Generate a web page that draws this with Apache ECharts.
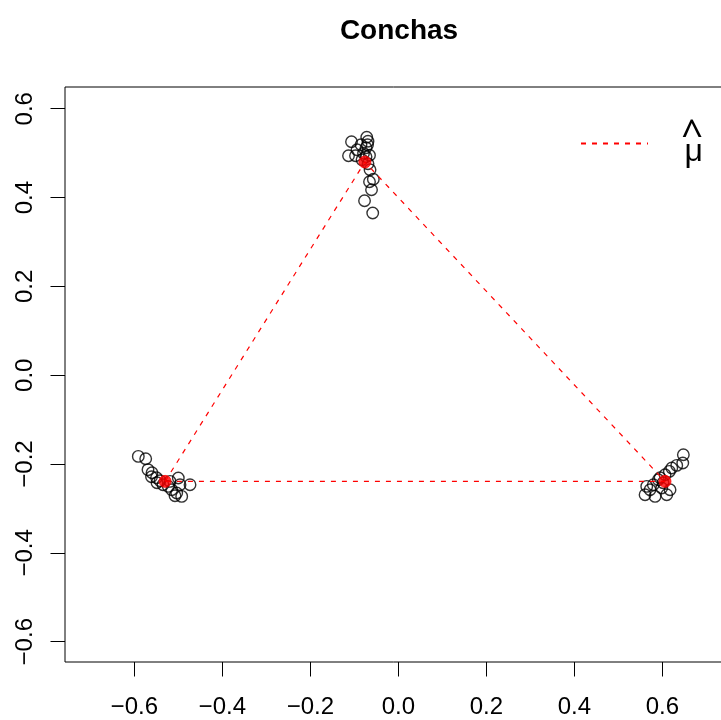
<!DOCTYPE html>
<html>
<head>
<meta charset="utf-8">
<script src="https://cdn.jsdelivr.net/npm/echarts@6/dist/echarts.min.js"></script>
<style>
  html, body { margin: 0; padding: 0; background: #fff; }
  #chart { width: 721px; height: 720px; }
</style>
</head>
<body>
<div id="chart"></div>
<script>
// Landmark coordinates of the shells, one block per vertex of the triangle
const topX = [-0.1064, -0.0718, -0.0689, -0.0700, -0.0848, -0.0939, -0.1132, -0.0973, -0.0791, -0.0655,
              -0.0734, -0.0643, -0.0568, -0.0655, -0.0609, -0.0768, -0.0582, -0.0734, -0.0825, -0.0689];
const topY = [0.5257, 0.5358, 0.5268, 0.5189, 0.5189, 0.5077, 0.4941, 0.4941, 0.4998, 0.4953,
              0.4919, 0.4626, 0.4412, 0.4356, 0.4176, 0.3928, 0.3652, 0.5122, 0.4851, 0.4761];

const leftX = [-0.5909, -0.5741, -0.5689, -0.5598, -0.5609, -0.5495, -0.5416, -0.5227, -0.5150, -0.5036,
               -0.4923, -0.5075, -0.5000, -0.4961, -0.4734, -0.5189, -0.5348, -0.5484];
const leftY = [-0.1828, -0.1880, -0.2127, -0.2195, -0.2285, -0.2308, -0.2375, -0.2503, -0.2578, -0.2652,
               -0.2728, -0.2713, -0.2314, -0.2465, -0.2465, -0.2391, -0.2465, -0.2420];

const rightX = [0.6477, 0.6464, 0.6327, 0.6214, 0.6159, 0.6061, 0.5948, 0.5909, 0.5795, 0.5645,
                0.5720, 0.5607, 0.5834, 0.6100, 0.5986, 0.6175, 0.6016];
const rightY = [-0.1790, -0.1977, -0.2031, -0.2089, -0.2166, -0.2240, -0.2308, -0.2353, -0.2465, -0.2503,
                -0.2578, -0.2690, -0.2728, -0.2690, -0.2539, -0.2578, -0.2420];

// Mean shape (mu hat): left, top, right vertices
const meanX = [-0.530, -0.076, 0.606];
const meanY = [-0.239, 0.480, -0.239];

// Tick labels
const xTicks = [-0.6, -0.4, -0.2, 0.0, 0.2, 0.4, 0.6];
const yTicks = [-0.6, -0.4, -0.2, 0.0, 0.2, 0.4, 0.6];

const titleText = 'Conchas';
const meanName = 'μ̂';

const zip = (xs, ys) => xs.map((x, i) => [x, ys[i]]);
const shellPoints = [].concat(zip(topX, topY), zip(leftX, leftY), zip(rightX, rightY));
const meanPoints = zip(meanX, meanY);
const meanPolygon = meanPoints.concat([meanPoints[0]]);

const fmt = v => {
  const s = Math.abs(v) < 1e-9 ? '0.0' : v.toFixed(1);
  return s.replace('-', '\u2212');
};

const FONT = '"Liberation Sans", Arial, Helvetica, sans-serif';
const RED = '#ff0000';
const DASH = [5, 6];

const chart = echarts.init(document.getElementById('chart'), null, { renderer: 'canvas' });

chart.setOption({
  animation: false,
  backgroundColor: '#ffffff',
  title: {
    text: titleText,
    left: 394,
    textAlign: 'center',
    top: 12,
    textStyle: { fontFamily: FONT, fontWeight: 'bold', fontSize: 28, color: '#000' }
  },
  legend: {
    data: [meanName],
    left: 580,
    top: 117,
    padding: 0,
    itemWidth: 67,
    itemHeight: 1,
    selectedMode: false,
    formatter: () => '{h|^}\n{m|μ}',
    textStyle: {
      fontFamily: FONT,
      color: '#000',
      rich: {
        h: { fontFamily: '"Noto Sans", "DejaVu Sans", sans-serif', fontSize: 38, lineHeight: 18, width: 50, align: 'right' },
        m: { fontFamily: FONT, fontSize: 32, lineHeight: 15, width: 50, align: 'right' }
      }
    }
  },
  grid: {
    left: 65,
    top: 87,
    width: 666,
    bottom: 58,
    show: true,
    borderColor: '#000',
    borderWidth: 1,
    containLabel: false,
    outerBoundsMode: 'none'
  },
  xAxis: {
    type: 'value',
    min: -0.7575,
    max: 0.756,
    splitLine: { show: false },
    axisLine: { show: false, onZero: false },
    axisTick: { show: true, inside: false, length: 14.5, customValues: xTicks, lineStyle: { color: '#000', width: 1 } },
    axisLabel: {
      show: true,
      customValues: xTicks,
      margin: 33,
      formatter: fmt,
      fontFamily: FONT,
      fontSize: 24,
      color: '#000'
    }
  },
  yAxis: {
    type: 'value',
    min: -0.6457,
    max: 0.6489,
    splitLine: { show: false },
    axisLine: { show: false, onZero: false },
    axisTick: { show: true, inside: false, length: 14.5, customValues: yTicks, lineStyle: { color: '#000', width: 1 } },
    axisLabel: {
      show: true,
      customValues: yTicks,
      rotate: 90,
      margin: 28,
      formatter: fmt,
      fontFamily: FONT,
      fontSize: 24,
      color: '#000'
    }
  },
  series: [
    {
      name: 'shells',
      type: 'scatter',
      data: shellPoints,
      symbol: 'circle',
      symbolSize: 11.5,
      z: 2,
      itemStyle: { color: 'rgba(0,0,0,0)', borderColor: '#000', borderWidth: 1.4 },
      emphasis: { disabled: true }
    },
    {
      name: meanName,
      type: 'line',
      data: meanPolygon,
      symbol: 'none',
      z: 3,
      color: RED,
      itemStyle: { color: RED },
      lineStyle: { color: RED, width: 1.2, type: DASH },
      emphasis: { disabled: true }
    },
    {
      name: 'mean',
      type: 'scatter',
      data: meanPoints,
      symbol: 'circle',
      symbolSize: 12,
      z: 4,
      itemStyle: { color: RED, borderColor: RED, borderWidth: 1 },
      emphasis: { disabled: true }
    }
  ]
});
</script>
</body>
</html>
